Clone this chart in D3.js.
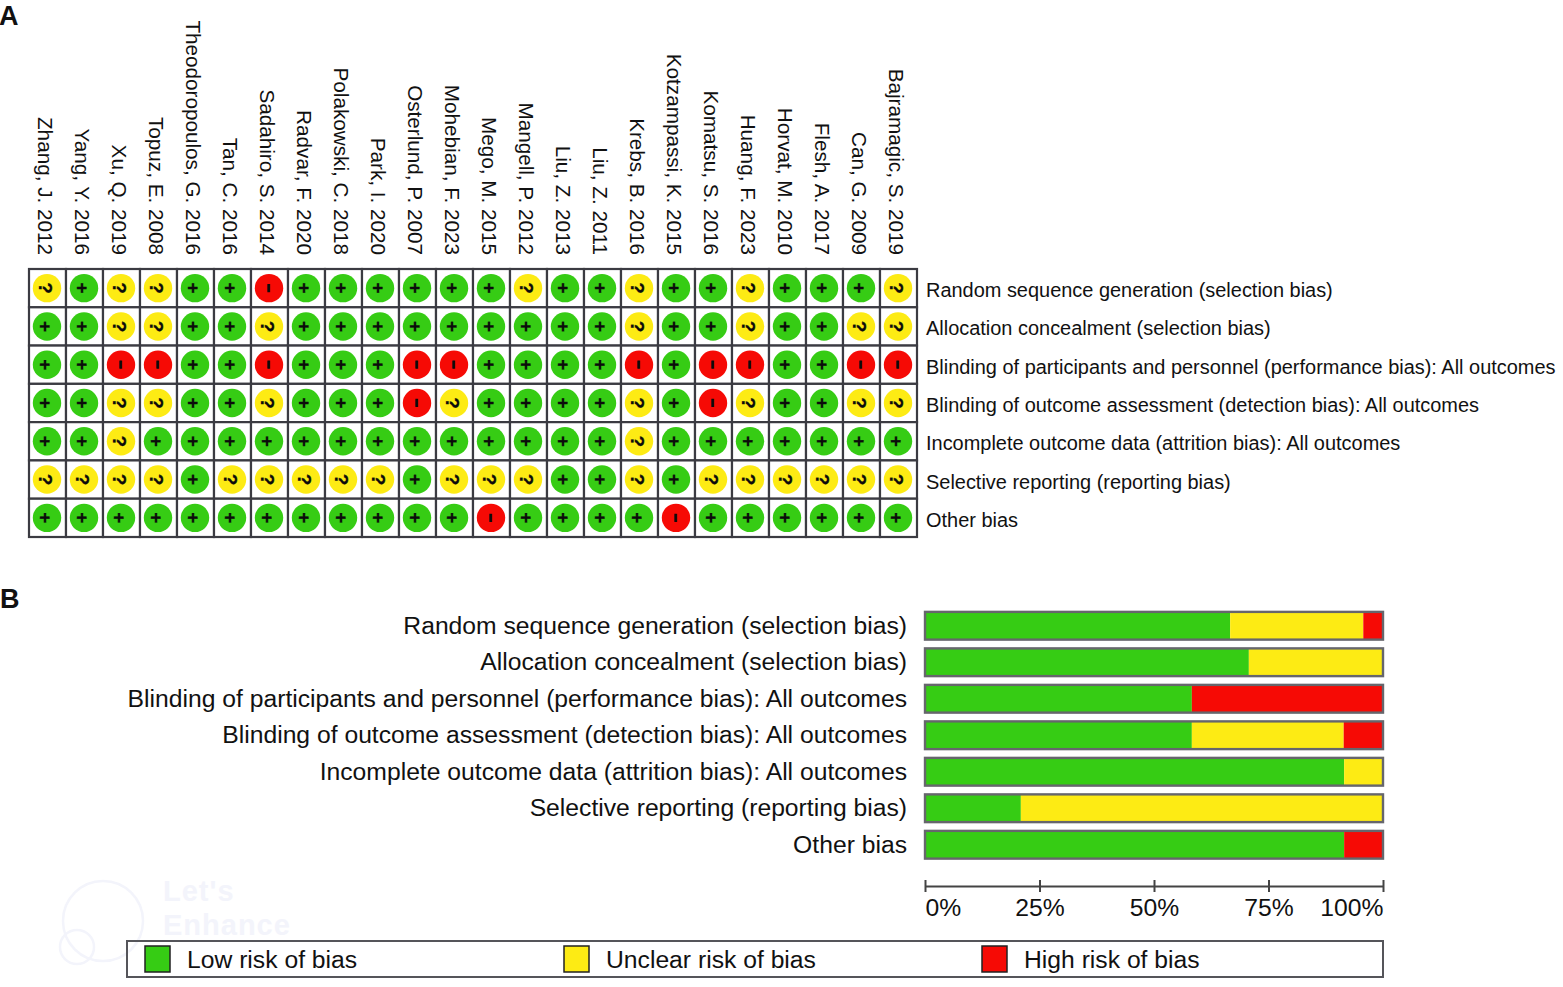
<!DOCTYPE html>
<html>
<head>
<meta charset="utf-8">
<script src="https://cdn.jsdelivr.net/npm/d3@7"></script>
<style>
  html, body { margin: 0; background: #fff; }
  svg { display: block; font-family: "Liberation Sans", Arial, sans-serif; }
</style>
</head>
<body>
<div id="chart"></div>
<script>
const studies = ["Zhang, J. 2012", "Yang, Y. 2016", "Xu, Q. 2019", "Topuz, E. 2008", "Theodoropoulos, G. 2016", "Tan, C. 2016", "Sadahiro, S. 2014", "Radvar, F. 2020", "Polakowski, C. 2018", "Park, I. 2020", "Osterlund, P. 2007", "Mohebian, F. 2023", "Mego, M. 2015", "Mangell, P. 2012", "Liu, Z. 2013", "Liu, Z. 2011", "Krebs, B. 2016", "Kotzampassi, K. 2015", "Komatsu, S. 2016", "Huang, F. 2023", "Horvat, M. 2010", "Flesh, A. 2017", "Can, G. 2009", "Bajramagic, S. 2019"];
const domains = ["Random sequence generation (selection bias)", "Allocation concealment (selection bias)", "Blinding of participants and personnel (performance bias): All outcomes", "Blinding of outcome assessment (detection bias): All outcomes", "Incomplete outcome data (attrition bias): All outcomes", "Selective reporting (reporting bias)", "Other bias"];
// one string per domain, one character per study
const judgements = [
  "?+??++-++++++?++?++?+++?",
  "++??++?+++++++++?++?++??",
  "++--++-+++--++++-+--++--",
  "++??++?+++-?++++?+-?++??",
  "++?+++++++++++++?+++++++",
  "????+?????+???++?+??????",
  "++++++++++++-++++-++++++"
];
const lowPct = [66.7, 70.8, 58.3, 58.3, 91.7, 20.8, 91.7];
const unclearPct = [29.2, 29.2, 0, 33.3, 8.3, 79.2, 0];
const highPct = [4.1, 0, 41.7, 8.4, 0, 0, 8.3];
const pctTicks = [0, 25, 50, 75, 100];
const legendLabels = ["Low risk of bias", "Unclear risk of bias", "High risk of bias"];

const green = "#36cc14", yellow = "#fdeb14", red = "#f60a05";
const ink = "#111";
const width = 1563, height = 987;

const svg = d3.select("#chart").append("svg")
  .attr("width", width)
  .attr("height", height)
  .attr("viewBox", [0, 0, width, height]);

// faint watermark under the legend
const wm = svg.append("g").attr("fill", "none").attr("stroke", "#f3f4fb").attr("stroke-width", 2.5);
wm.append("circle").attr("cx", 103).attr("cy", 921).attr("r", 40);
wm.append("circle").attr("cx", 77).attr("cy", 947).attr("r", 17);
const wmText = svg.append("g").attr("fill", "#f3f4fb").attr("font-weight", "bold").attr("font-size", 29).attr("letter-spacing", 1);
wmText.append("text").attr("x", 163).attr("y", 901).text("Let's");
wmText.append("text").attr("x", 163).attr("y", 935).text("Enhance");

svg.append("text").attr("x", -1).attr("y", 25).attr("font-size", 27).attr("font-weight", "bold").attr("fill", ink).text("A");
svg.append("text").attr("x", 0).attr("y", 608).attr("font-size", 27).attr("font-weight", "bold").attr("fill", ink).text("B");

// Panel A
const gridX = d3.scaleBand().domain(studies).range([29, 917]);
const gridY = d3.scaleBand().domain(domains).range([269, 537]);
const colour = { "+": green, "?": yellow, "-": red };
const glyph = { "+": "+", "?": "?", "-": "\u2013" };

const cells = domains.flatMap((d, i) =>
  studies.map((s, j) => ({ domain: d, study: s, value: judgements[i][j] }))
);

const cell = svg.append("g").selectAll("g")
  .data(cells)
  .join("g")
  .attr("transform", (d) => `translate(${gridX(d.study)},${gridY(d.domain)})`);

cell.append("rect")
  .attr("width", gridX.bandwidth())
  .attr("height", gridY.bandwidth())
  .attr("fill", "#fff")
  .attr("stroke", "#3b3b42")
  .attr("stroke-width", 2.2);

cell.append("circle")
  .attr("cx", gridX.bandwidth() / 2 - 0.5)
  .attr("cy", gridY.bandwidth() / 2)
  .attr("r", 14.2)
  .attr("fill", (d) => colour[d.value]);

// the symbols sit rotated, same as the study names
cell.append("text")
  .attr("transform", `translate(${gridX.bandwidth() / 2 - 2},${gridY.bandwidth() / 2}) rotate(90)`)
  .attr("text-anchor", "middle")
  .attr("dy", (d) => (d.value === "-" ? "0.28em" : "0.36em"))
  .attr("font-size", (d) => (d.value === "-" ? 14 : 19))
  .attr("font-weight", "bold")
  .attr("stroke", "#0b0b0b")
  .attr("stroke-width", (d) => (d.value === "-" ? 1.2 : 0.3))
  .attr("fill", "#0b0b0b")
  .text((d) => glyph[d.value]);

svg.append("g").selectAll("text")
  .data(studies)
  .join("text")
  .attr("transform", (d) => `translate(${gridX(d) + gridX.bandwidth() / 2 - 10},255) rotate(90)`)
  .attr("text-anchor", "end")
  .attr("font-size", 20.7)
  .attr("fill", ink)
  .text((d) => d);

svg.append("g").selectAll("text")
  .data(domains)
  .join("text")
  .attr("x", 926)
  .attr("y", (d) => gridY(d) + gridY.bandwidth() / 2 + 9)
  .attr("font-size", 19.95)
  .attr("fill", ink)
  .text((d) => d);

// Panel B
const barX = d3.scaleLinear().domain([0, 100]).range([925, 1383]);
// the fills stop just inside the outline, so they get their own slightly narrower range
const fillX = d3.scaleLinear().domain([0, 100]).range([926, 1382]);
const barY = d3.scaleBand().domain(domains).range([607.5, 863]).paddingInner(0.24).paddingOuter(0.12);

const summary = domains.map((d, i) => ({ domain: d, low: lowPct[i], unclear: unclearPct[i], high: highPct[i] }));
const stacked = d3.stack().keys(["low", "unclear", "high"])(summary);
const stackColour = d3.scaleOrdinal(["low", "unclear", "high"], [green, yellow, red]);

svg.append("g").selectAll("g")
  .data(stacked)
  .join("g")
  .attr("fill", (s) => stackColour(s.key))
  .selectAll("rect")
  .data((s) => s)
  .join("rect")
  .attr("x", (d) => fillX(d[0]))
  .attr("y", (d) => barY(d.data.domain))
  .attr("width", (d) => fillX(d[1]) - fillX(d[0]))
  .attr("height", barY.bandwidth());

svg.append("g").selectAll("rect")
  .data(domains)
  .join("rect")
  .attr("x", barX(0))
  .attr("y", (d) => barY(d))
  .attr("width", barX(100) - barX(0))
  .attr("height", barY.bandwidth())
  .attr("fill", "none")
  .attr("stroke", "#66666c")
  .attr("stroke-width", 2.4);

svg.append("g").selectAll("text")
  .data(domains)
  .join("text")
  .attr("x", 907)
  .attr("y", (d) => barY(d) + barY.bandwidth() / 2 + 8)
  .attr("text-anchor", "end")
  .attr("font-size", 24.7)
  .attr("fill", ink)
  .text((d) => d);

const axis = svg.append("g")
  .attr("transform", "translate(0,886)")
  .call(d3.axisBottom(barX).tickValues(pctTicks).tickFormat((d) => d + "%").tickSize(6).tickSizeOuter(0));
axis.select(".domain").attr("stroke", "#444").attr("stroke-width", 2);
axis.selectAll(".tick line").attr("y1", -6).attr("stroke", "#444").attr("stroke-width", 2);
axis.selectAll(".tick text")
  .attr("y", 12)
  .attr("font-size", 24.7)
  .attr("font-family", "Liberation Sans, Arial, sans-serif")
  .attr("fill", ink)
  .attr("text-anchor", (d) => (d === 0 ? "start" : d === 100 ? "end" : "middle"));

// legend box
svg.append("rect")
  .attr("x", 127).attr("y", 941)
  .attr("width", 1256).attr("height", 36)
  .attr("fill", "none")
  .attr("stroke", "#55555a")
  .attr("stroke-width", 2);

const legendX = d3.scaleOrdinal(legendLabels, [145, 564, 982]);
const legend = svg.append("g").selectAll("g")
  .data(legendLabels)
  .join("g")
  .attr("transform", (d) => `translate(${legendX(d)},946)`);
legend.append("rect")
  .attr("width", 25).attr("height", 26)
  .attr("fill", (d, i) => [green, yellow, red][i])
  .attr("stroke", "#222")
  .attr("stroke-width", 1.5);
legend.append("text")
  .attr("x", 42).attr("y", 22)
  .attr("font-size", 24.7)
  .attr("fill", ink)
  .text((d) => d);
</script>
</body>
</html>
